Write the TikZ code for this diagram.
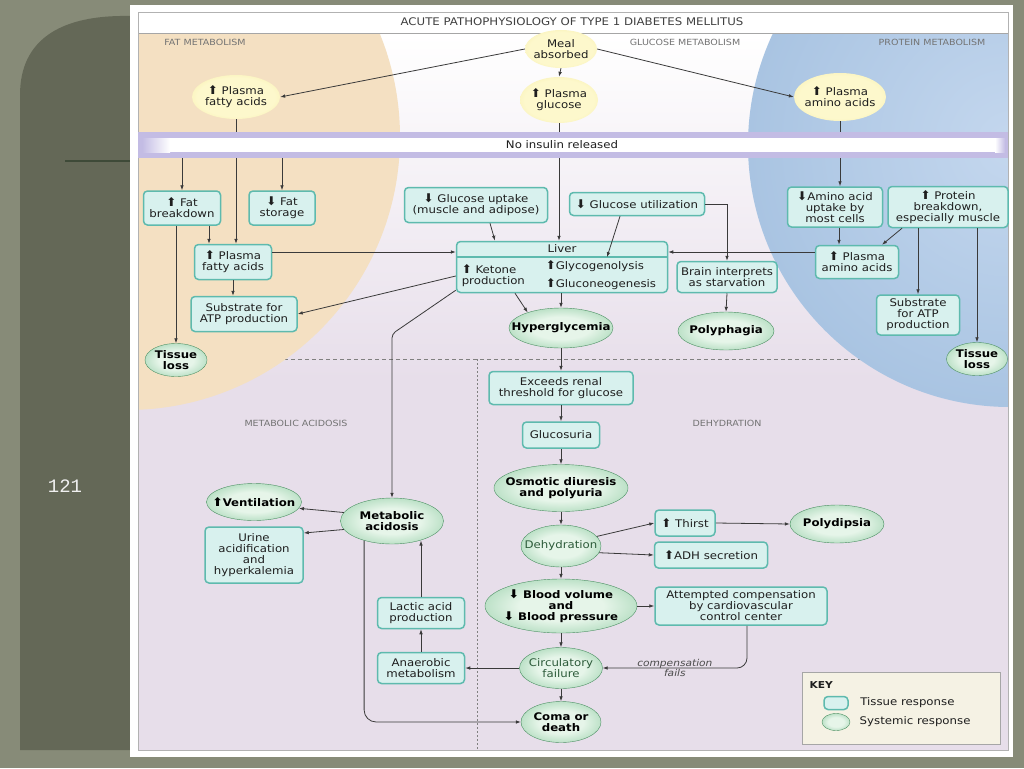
\documentclass[tikz,border=0pt]{standalone}
\usepackage{fontspec}
\setmainfont{DejaVu Sans}[FakeStretch=1.12]
\newfontfamily\slidefont{Liberation Mono}
\newfontfamily\arrowfont{DejaVu Sans}
\usepackage{tikz}
\usetikzlibrary{positioning,shapes.geometric,arrows.meta}

\definecolor{slidebg}{HTML}{878B78}
\definecolor{panel}{HTML}{646857}
\definecolor{panelline}{HTML}{3E4A38}
\definecolor{lav}{HTML}{E7DEEA}
\definecolor{tanf}{HTML}{F4E0C2}
\definecolor{bluein}{HTML}{C4D7EE}
\definecolor{blueout}{HTML}{A9C4E2}
\definecolor{barp}{HTML}{C3BCE4}
\definecolor{tealb}{HTML}{5EBAAE}
\definecolor{tealf}{HTML}{D8F1EE}
\definecolor{sysin}{HTML}{E6F5E9}
\definecolor{sysout}{HTML}{5FB47C}
\definecolor{sysdark}{HTML}{2D5B3A}
\definecolor{yelin}{HTML}{FDF8CC}
\definecolor{yelout}{HTML}{EEE07A}
\definecolor{txt}{HTML}{1E1E1E}
\definecolor{conn}{HTML}{3A3A3A}
\definecolor{keyf}{HTML}{F5F2E4}

\pgfdeclareradialshading{sysshade}{\pgfpoint{0bp}{0bp}}{color(0bp)=(sysin); color(14bp)=(sysin); color(50bp)=(sysout)}
\pgfdeclareradialshading{yelshade}{\pgfpoint{0bp}{0bp}}{color(0bp)=(yelin); color(22bp)=(yelin); color(50bp)=(yelout)}

\newcommand{\uparr}{{\arrowfont\fontsize{12}{11}\selectfont ⬆}}
\newcommand{\dnarr}{{\arrowfont\fontsize{12}{11}\selectfont ⬇}}

\begin{document}
\begin{tikzpicture}[x=1pt,y=-1pt,
	txtfont/.style={font=\fontsize{10.5}{11}\selectfont},
	tbox/.style={draw=tealb, line width=1.5pt, fill=tealf, rounded corners=4pt, align=center, inner sep=2pt, text=txt, txtfont},
	sysell/.style={ellipse, shading=sysshade, shade, draw=sysout!80!black, line width=0.4pt, inner xsep=-14pt, inner ysep=0pt, align=center, text=black, font=\fontsize{10.5}{11}\bfseries\selectfont},
	yelell/.style={ellipse, shading=yelshade, shade, inner xsep=-14pt, inner ysep=0pt, align=center, text=txt, txtfont},
	link/.style={draw=conn, line width=0.8pt, -{Latex[length=5pt,width=3.6pt]}},
	seclab/.style={font=\fontsize{8.5}{9}\selectfont, text=black!55},
	]
	\useasboundingbox (0,0) rectangle (1024,768);
	%%%slide
	\fill[slidebg] (0,0) rectangle (1024,768);
	\fill[panel] (20,750) -- (20,95) .. controls (20,40) and (60,17) .. (120,16) -- (140,16) -- (140,750) -- cycle;
	\draw[panelline, line width=1.5pt] (65,161) -- (132,161);
	\node[font=\slidefont\fontsize{19}{19}\selectfont, text=white!94!black] at (65,486) (pageno) {121};
	\fill[white] (130,5) rectangle (1013,757);
	%%%regions
	\fill[lav] (138,12) rectangle (1008,750);
	\shade[top color=white, bottom color=lav] (138,33) rectangle (1008,380);
	\draw[black!50, dash pattern=on 4pt off 3pt, line width=0.8pt] (270,359) -- (890,359);
	\draw[black!50, dash pattern=on 2pt off 2pt, line width=0.9pt] (477,359) -- (477,750);
	\begin{scope}
		\clip (138,33) rectangle (1008,750);
		\fill[tanf] (127,137) circle (273pt);
		\shade[inner color=bluein, outer color=blueout] (1010,145) circle (262pt);
	\end{scope}
	\fill[white] (138,12) rectangle (1008,33);
	\draw[black!35, line width=0.6pt] (138,33) -- (1008,33);
	\draw[black!30, line width=0.8pt] (138,12) rectangle (1008,750);
	\node[txtfont, text=black!75] at (572,22) (title) {ACUTE PATHOPHYSIOLOGY OF TYPE 1 DIABETES MELLITUS};
	\node[seclab] at (205,42) (fatlab) {FAT METABOLISM};
	\node[seclab] at (685,42) (glulab) {GLUCOSE METABOLISM};
	\node[seclab] at (932,42) (protlab) {PROTEIN METABOLISM};
	\node[seclab] at (296,423) (acidlab) {METABOLIC ACIDOSIS};
	\node[seclab] at (727,423) (dehydlab) {DEHYDRATION};
	%%%nodes
	%meal and plasma levels
	\node[yelell, minimum width=72, minimum height=38] at (561,49) (meal) {Meal\\absorbed};
	\node[yelell, minimum width=88, minimum height=44] at (236,97) (pfa) {\uparr\ Plasma\\fatty acids};
	\node[yelell, minimum width=78, minimum height=46] at (559,100) (pglu) {\uparr\ Plasma\\glucose};
	\node[yelell, minimum width=92, minimum height=48] at (840,97) (paa) {\uparr\ Plasma\\amino acids};
	%no insulin
	\node[fill=barp, minimum width=870, minimum height=26, inner sep=0] at (573,145) (insulin) {};
	\fill[white] (170,138) rectangle (995,152);
	\shade[left color=barp, right color=white] (142,138) rectangle (170,152);
	\shade[left color=white, right color=barp] (995,138) rectangle (1005,152);
	\node[txtfont, text=txt] at (562,145) (insulintxt) {No insulin released};
	%fat metabolism
	\node[tbox, minimum width=77, minimum height=34] at (182,208) (fatbrk) {\uparr\ Fat\\breakdown};
	\node[tbox, minimum width=66, minimum height=34] at (282,208) (fatsto) {\dnarr\ Fat\\storage};
	\node[tbox, minimum width=77, minimum height=35] at (233,262) (pfabox) {\uparr\ Plasma\\fatty acids};
	\node[tbox, minimum width=106, minimum height=35] at (244,314) (atpL) {Substrate for\\ATP production};
	\node[sysell, minimum width=62, minimum height=33] at (176,360) (tlossL) {Tissue\\loss};
	%glucose metabolism
	\node[tbox, minimum width=143, minimum height=35] at (476,205) (gluupt) {\dnarr\ Glucose uptake\\(muscle and adipose)};
	\node[tbox, minimum width=135, minimum height=23] at (637,204) (gluutil) {\dnarr\ Glucose utilization};
	\node[tbox, minimum width=211, minimum height=51] at (562,267) (liver) {};
	\node[txtfont, text=txt, minimum width=211, minimum height=16, inner sep=0, anchor=north] at (liver.north) (livhd) {Liver};
	\draw[tealb, line width=1.5pt] (livhd.south west) -- (livhd.south east);
	\node[tbox, draw=none, fill=none, align=left, anchor=west] at (459,276) (keto) {\uparr\ Ketone\\production};
	\node[tbox, draw=none, fill=none, align=left, anchor=west] at (543,275) (glyco) {\uparr Glycogenolysis\\[6pt]\uparr Gluconeogenesis};
	\node[tbox, minimum width=100, minimum height=31] at (727,277) (brain) {Brain interprets\\as starvation};
	\node[sysell, minimum width=104, minimum height=40] at (561,328) (hyper) {Hyperglycemia};
	\node[sysell, minimum width=96, minimum height=38] at (726,331) (polyph) {Polyphagia};
	%protein metabolism
	\node[tbox, minimum width=95, minimum height=40] at (835,207) (aaupt) {\dnarr Amino acid\\uptake by\\most cells};
	\node[tbox, minimum width=120, minimum height=41] at (948,207) (protbrk) {\uparr\ Protein\\breakdown,\\especially muscle};
	\node[tbox, minimum width=83, minimum height=33] at (857,262) (paabox) {\uparr\ Plasma\\amino acids};
	\node[tbox, minimum width=83, minimum height=40] at (918,315) (atpR) {Substrate\\for ATP\\production};
	\node[sysell, minimum width=61, minimum height=33] at (977,359) (tlossR) {Tissue\\loss};
	%dehydration
	\node[tbox, minimum width=144, minimum height=33] at (561,388) (renal) {Exceeds renal\\threshold for glucose};
	\node[tbox, minimum width=77, minimum height=26] at (561,435) (glucosur) {Glucosuria};
	\node[sysell, minimum width=134, minimum height=47] at (561,488) (osmo) {Osmotic diuresis\\and polyuria};
	\node[sysell, minimum width=80, minimum height=42, txtfont, text=sysdark] at (561,546) (dehyd) {Dehydration};
	\node[tbox, minimum width=60, minimum height=26] at (685,523) (thirst) {\uparr\ Thirst};
	\node[tbox, minimum width=113, minimum height=26] at (711,555) (adh) {\uparr ADH secretion};
	\node[sysell, minimum width=94, minimum height=38] at (837,524) (polydip) {Polydipsia};
	\node[sysell, minimum width=152, minimum height=54] at (561,606) (bvol) {\dnarr\ Blood volume\\and\\\dnarr\ Blood pressure};
	\node[tbox, minimum width=172, minimum height=38] at (741,606) (attcomp) {Attempted compensation\\by cardiovascular\\control center};
	\node[sysell, minimum width=83, minimum height=41, txtfont, text=sysdark] at (561,668) (circ) {Circulatory\\failure};
	\node[sysell, minimum width=80, minimum height=41] at (561,722) (coma) {Coma or\\death};
	%metabolic acidosis
	\node[sysell, minimum width=103, minimum height=46] at (392,521) (metac) {Metabolic\\acidosis};
	\node[sysell, minimum width=95, minimum height=37] at (254,502) (vent) {\uparr Ventilation};
	\node[tbox, minimum width=98, minimum height=56] at (254,555) (urine) {Urine\\acidification\\and\\hyperkalemia};
	\node[tbox, minimum width=87, minimum height=31] at (421,613) (lactic) {Lactic acid\\production};
	\node[tbox, minimum width=87, minimum height=31] at (421,668) (anaer) {Anaerobic\\metabolism};
	%key
	\node[draw=black!35, fill=keyf, line width=0.8pt, minimum width=198, minimum height=72] at (901,708) (key) {};
	\node[font=\fontsize{9.5}{10}\bfseries\selectfont, text=txt, anchor=west] at (806,685) (keyhd) {KEY};
	\node[tbox, minimum width=24, minimum height=13, inner sep=0] at (836,703) (keyt) {};
	\node[sysell, minimum width=28, minimum height=17] at (836,722) (keys) {};
	\node[txtfont, text=txt, right=8pt of keyt] (keytl) {Tissue response};
	\node[txtfont, text=txt, right=6pt of keys] (keysl) {Systemic response};
	%%%links
	%meal absorbed
	\draw[link] (meal.west) -- (pfa.east);
	\draw[link] (meal.east) -- (paa.west);
	\draw[link] (meal.south) -- (pglu.north);
	%through the insulin bar
	\draw[link,-] (pfa.south) -- (pfa.south |- insulin.north);
	\draw[link] (pfa.south |- insulin.south) -- (pfa.south |- pfabox.north);
	\draw[link,-] (pglu.south) -- (pglu.south |- insulin.north);
	\draw[link] (pglu.south |- insulin.south) -- (pglu.south |- liver.north);
	\draw[link,-] (paa.south) -- (paa.south |- insulin.north);
	\draw[link] (paa.south |- insulin.south) -- (paa.south |- aaupt.north);
	\draw[link] (insulin.south -| fatbrk) -- (fatbrk.north);
	\draw[link] (insulin.south -| fatsto) -- (fatsto.north);
	%fat side
	\draw[link] (fatbrk.south -| tlossL) -- (tlossL.north);
	\draw[link] ([xshift=27pt]fatbrk.south) -- ([xshift=27pt]fatbrk.south |- pfabox.north);
	\draw[link] (pfabox.south) -- (pfabox.south |- atpL.north);
	\draw[link] ([yshift=10pt]pfabox.east) -- ([yshift=10pt]pfabox.east -| liver.west);
	\draw[link] ([yshift=-9pt]liver.west) -- (atpL.east);
	\coordinate (ketbend) at (392,334);
	\draw[link, rounded corners=4pt] ([yshift=3pt]liver.south west) -- (ketbend) -- (metac.north);
	%glucose side
	\draw[link] ([xshift=14pt]gluupt.south) -- ([xshift=-67pt]liver.north);
	\draw[link] ([xshift=-17pt]gluutil.south) -- ([xshift=45pt]livhd.south);
	\draw[link] (gluutil.east) -| (brain.north);
	\draw[link] (brain.south) -- (polyph.north);
	\draw[link] ([xshift=-47pt]liver.south) -- (hyper.155);
	\draw[link] (hyper.north |- liver.south) -- (hyper.north);
	%protein side
	\draw[link] ([xshift=4pt]aaupt.south) -- ([xshift=4pt]aaupt.south |- paabox.north);
	\draw[link] ([xshift=-46pt]protbrk.south) -- ([xshift=25pt]paabox.north);
	\draw[link] (protbrk.south -| atpR) -- (atpR.north);
	\draw[link] (protbrk.south -| tlossR) -- (tlossR.north);
	\draw[link] ([yshift=10pt]paabox.west) -- ([yshift=10pt]paabox.west -| liver.east);
	%dehydration chain
	\draw[link] (hyper.south) -- (renal.north);
	\draw[link] (renal.south) -- (glucosur.north);
	\draw[link] (glucosur.south) -- (osmo.north);
	\draw[link] (osmo.south) -- (dehyd.north);
	\draw[link] (dehyd.south) -- (bvol.north);
	\draw[link] (bvol.south) -- (circ.north);
	\draw[link] (circ.south) -- (coma.north);
	\draw[link] (dehyd.15) -- (thirst.west);
	\draw[link] (dehyd.-10) -- (adh.west);
	\draw[link] (thirst.east) -- (polydip.west);
	\draw[link] (bvol.east) -- (attcomp.west);
	\draw[link, rounded corners=10pt] ([xshift=6pt]attcomp.south) |- (circ.east) node[pos=0.75, align=center, font=\fontsize{9.5}{10}\itshape\selectfont, text=black!70] (compfail) {compensation\\fails};
	%acidosis
	\draw[link] (circ.west) -- (anaer.east);
	\draw[link] (anaer.north) -- (lactic.south);
	\draw[link] (lactic.north) -- (lactic.north |- metac.325);
	\draw[link] (metac.170) -- (vent.-8);
	\draw[link] (metac.190) -- ([yshift=22pt]urine.east);
	\draw[link, rounded corners=12pt] (metac.215) |- (coma.west);
\end{tikzpicture}
\end{document}
